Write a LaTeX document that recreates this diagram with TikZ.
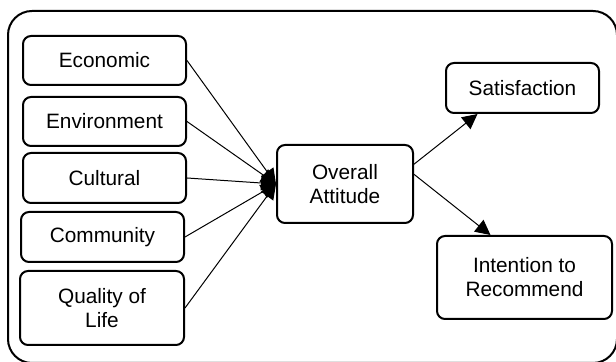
\documentclass[tikz,border=0pt]{standalone}
\usepackage{fontspec}
\setmainfont{Liberation Sans}
\usetikzlibrary{arrows.meta}

\begin{document}
\begin{tikzpicture}[x=0.5pt, y=-0.5pt,
    factor/.style={draw, rectangle, rounded corners=4pt, line width=1pt,
      align=center, inner sep=0pt, font=\fontsize{10.4}{12}\selectfont},
    link/.style={-{Triangle[length=7.5pt, width=7.5pt]}, line width=0.5pt}]
      \useasboundingbox (0,0) rectangle (616,362);
      \clip (0,0) rectangle (616,362);
      \draw[line width=1pt, rounded corners=12pt] (8,11) rectangle (617,363);
      \node[factor, minimum width=81.5pt, minimum height=24.5pt] (econ) at (104.5,60.5) {Economic};
      \node[factor, minimum width=81.5pt, minimum height=24.5pt] (envir) at (104.5,121.5) {Environment};
      \node[factor, minimum width=81.5pt, minimum height=25pt] (cult) at (104.5,178) {Cultural};
      \node[factor, minimum width=81.5pt, minimum height=25pt] (comm) at (102.5,237) {Community};
      \node[factor, minimum width=82pt, minimum height=37pt] (qol) at (102,308) {Quality of\\Life};
      \node[factor, minimum width=68pt, minimum height=39pt] (attitude) at (345,184) {Overall\\Attitude};
      \node[factor, minimum width=76.5pt, minimum height=25pt] (satis) at (522.5,88) {Satisfaction};
      \node[factor, minimum width=87.5pt, minimum height=41.5pt] (intent) at (524.5,277.5) {Intention to\\Recommend};
      \draw[link] (econ.east) -- (attitude.west);
      \draw[link] (envir.east) -- (attitude.west);
      \draw[link] (cult.east) -- (attitude.west);
      \draw[link] (comm.east) -- (attitude.west);
      \draw[link] (qol.east) -- (attitude.west);
      \draw[link] (attitude.16) -- ([xshift=-22.5pt]satis.south);
      \draw[link] (attitude.8) -- ([xshift=-17pt]intent.north);
    \end{tikzpicture}
\end{document}
